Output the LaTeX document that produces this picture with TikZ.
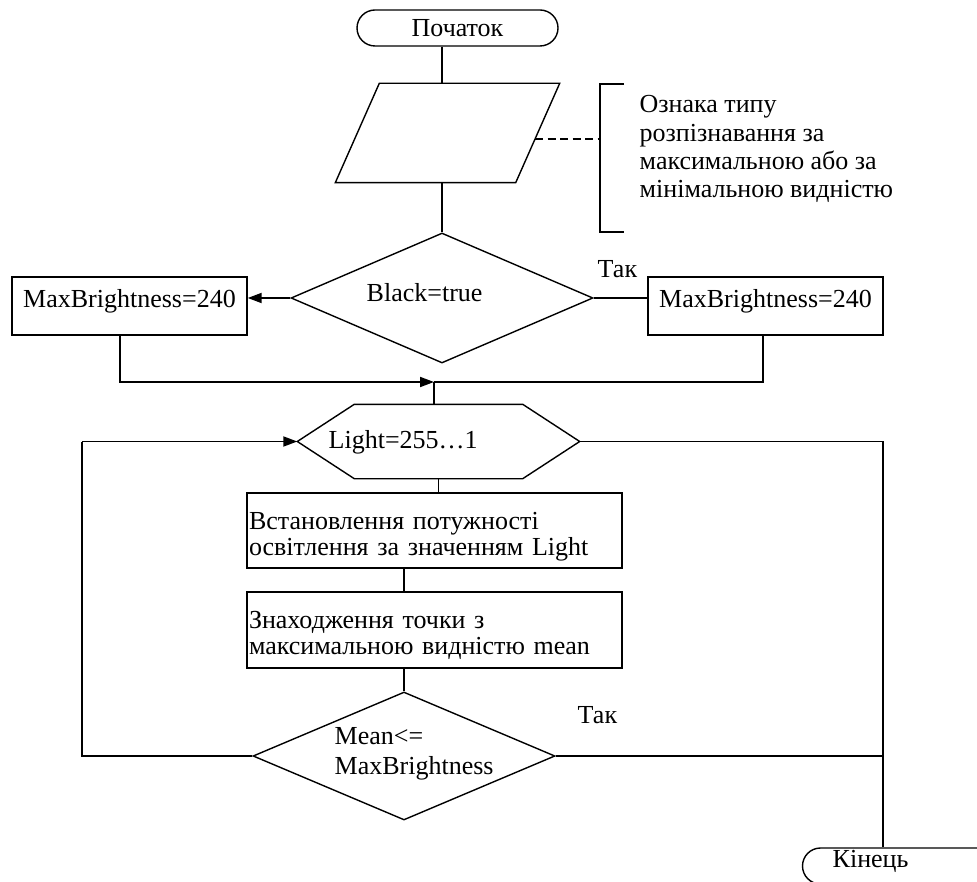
\documentclass[tikz,border=0pt]{standalone}
\usepackage{fontspec}
\setmainfont{Liberation Serif}
\usetikzlibrary{shapes.geometric,arrows.meta}
\begin{document}
\begin{tikzpicture}[x=1pt,y=-1pt,
  line width=1.4pt,
  every node/.style={font=\fontsize{26}{28}\selectfont, inner sep=0pt},
  term/.style={draw, rounded corners=18pt, minimum width=201pt, minimum height=36pt},
  mbox/.style={draw, minimum width=235pt, minimum height=58pt, text height=17.8pt, text depth=13.8pt},
  wbox/.style={draw, text width=371pt, inner xsep=2pt, align=left, font=\fontsize{26}{26}\selectfont},
  decision/.style={draw, diamond, inner sep=0pt},
  frame/.style={minimum width=#1, inner sep=0pt},
  txt/.style={anchor=base west},
  arrowline/.style={line width=1.8pt, -{Triangle[length=14pt,width=10pt]}},
  thick line/.style={line width=1.8pt}
]
\useasboundingbox (0,0) rectangle (977,882);

% column positions
\coordinate (col) at (442,0);
\coordinate (loopL) at (82,0);
\coordinate (colR) at (883,0);
\coordinate (m) at (434,382);
\coordinate (brkT) at (600,84);
\coordinate (brkB) at (600,232);

% start / end
\node[term] (start) at (457.5,28) {Початок};
\node[term] (endn) at (903,866) {};
\node[txt] (endtxt) at (832,867) {Кінець};

% input (parallelogram drawn on an invisible frame)
\node[frame=223pt, minimum height=98pt] (para) at (447.5,133) {};
\draw ([xshift=44pt]para.north west) -- (para.north east)
      -- ([xshift=-44pt]para.south east) -- (para.south west) -- cycle;
\path (para.north east) -- ([xshift=-44pt]para.south east) coordinate[pos=0.56] (pe);

% comment
\node[anchor=west, align=left, font=\fontsize{26}{28.3}\selectfont] (note) at (639,149.3)
  {Ознака типу\\розпізнавання за\\максимальною або за\\мінімальною видністю};
\draw ([xshift=24pt]brkT) -- (brkT) -- (brkB) -- ([xshift=24pt]brkB);
\draw[dash pattern=on 8pt off 4.5pt] (pe) -- (pe -| brkT);

% first decision
\node[decision, minimum width=302pt, minimum height=130pt] (d1) at (442,298) {};
\node[txt] (d1txt) at (366,302) {Black=true};
\node[mbox] (lbox) at (129.5,306) {MaxBrightness=240};
\node[mbox] (rbox) at (765.5,306) {MaxBrightness=240};
\node[txt] (yes1) at (597,278) {Так};

% loop header (hexagon drawn on an invisible frame)
\node[frame=281pt, minimum height=73pt] (hex) at (438.5,441.5) {};
\draw (hex.west) -- ([xshift=57pt]hex.north west) -- ([xshift=-57pt]hex.north east)
      -- (hex.east) -- ([xshift=-57pt]hex.south east) -- ([xshift=57pt]hex.south west) -- cycle;
\node[txt] (hextxt) at (328,448) {Light=255…1};

% loop body
\node[wbox, minimum height=75pt] (box1) at (434.5,530.5)
  {\rule{0pt}{30pt}Встановлення потужності\\освітлення за значенням Light};
\node[wbox, minimum height=76pt] (box2) at (434.5,630)
  {\rule{0pt}{28pt}Знаходження точки з\\максимальною видністю mean};

% loop condition
\node[decision, minimum width=302pt, minimum height=128pt] (d2) at (404,756) {};
\node[anchor=west, align=left, font=\fontsize{26}{30}\selectfont] (d2txt) at (334,754.2)
  {Mean<=\\MaxBrightness};
\node[txt] (yes2) at (577,723) {Так};

% connectors
\draw (start.south -| col) -- (para.north -| col);
\draw (para.south -| col) -- (d1.north);
\draw[arrowline] (d1.west) -- (lbox.east |- d1.west);
\draw (d1.east) -- (rbox.west |- d1.east);
\draw[arrowline] ([xshift=-9.5pt]lbox.south) |- (m);
\draw ([xshift=-2.5pt]rbox.south) |- (m);
\draw (m) -- (m |- hex.north);
\draw (hex.south) -- (hex.south |- box1.north);
\draw (box1.south -| d2.north) -- (box2.north -| d2.north);
\draw (box2.south -| d2.north) -- (d2.north);
\draw[thick line] (d2.west) -- (d2.west -| loopL) -- (loopL |- hex.west);
\draw[arrowline] (loopL |- hex.west) -- (hex.west);
\draw (hex.east) -- (hex.east -| colR) -- (colR |- endn.north);
\draw[thick line] (d2.east) -- (d2.east -| colR);
\end{tikzpicture}
\end{document}
